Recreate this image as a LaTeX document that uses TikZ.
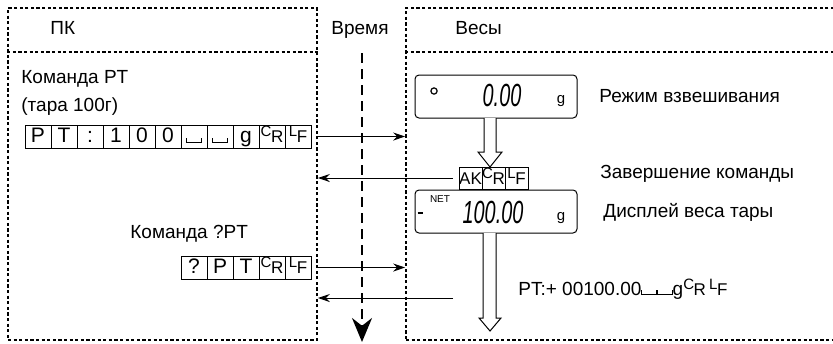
\documentclass[tikz,border=0pt]{standalone}
\usepackage{fontspec}
\setmainfont{Liberation Sans}
\usepackage{graphicx}
\usetikzlibrary{arrows.meta}

% control characters (CR, LF) and the visible blank
\newcommand{\ctl}[2]{{\fontsize{7.5}{7.5}\selectfont\raisebox{3pt}{#1}}\kern-0.2pt{\fontsize{8.5}{8.5}\selectfont#2}}
\newcommand{\blank}{\rule{0.4pt}{2.5pt}\rule{7pt}{0.4pt}\rule{0.4pt}{2.5pt}}
% narrow slanted digits of the balance display
\newcommand{\segs}[1]{\scalebox{0.62}[1]{\fontsize{16}{16}\selectfont\itshape #1}}

\tikzset{
	lane/.style={draw, line width=0.8pt, dash pattern=on 1.6pt off 1.2pt, inner sep=0pt},
	msg/.style={-{Stealth[length=6pt, width=4pt]}, line width=0.5pt},
	timeline/.style={line width=1pt, dash pattern=on 5pt off 3pt, -{Stealth[length=12pt, width=10pt]}},
	cell/.style={draw, line width=0.4pt, minimum width=13pt, minimum height=11.5pt, inner sep=0pt,
		text height=7.5pt, text depth=1.5pt, font=\fontsize{10.5}{10.5}\selectfont},
	akcell/.style={cell, minimum width=11.5pt, minimum height=11pt, font=\fontsize{8.5}{8.5}\selectfont},
	lcd/.style={draw, line width=0.5pt, rounded corners=2pt, minimum width=81pt, minimum height=21.5pt},
	txt/.style={anchor=base west, inner sep=0pt, font=\fontsize{9.5}{11}\selectfont},
	unit/.style={inner sep=0pt, font=\fontsize{7.5}{7.5}\selectfont},
	hollow/.style={draw, line width=0.5pt, fill=white}
}

\begin{document}
\begin{tikzpicture}[x=0.5pt, y=-0.5pt]
		\clip (0,0) rectangle (833,343);

		% the two lanes, PC on the left and the balance on the right
		\node [lane, minimum width=154.5pt, minimum height=166pt] (pc) at (162.5,174) {};
		\node [lane, minimum width=227pt, minimum height=166pt] (bal) at (633,174) {};
		\coordinate (hd) at (0,52);
		\draw [lane] (pc.west |- hd) -- (pc.east |- hd);
		\draw [lane] (bal.west |- hd) -- (bal.east |- hd);

		\node [txt] (pctitle) at (50,34) {ПК};
		\node [txt] (timetitle) at (331,34) {Время};
		\node [txt] (baltitle) at (455,34) {Весы};

		% time axis
		\coordinate (t0) at (362,53);
		\coordinate (t1) at (362,342);
		\draw [timeline] (t0) -- (t1);

		% command PT
		\node [txt] (cmd1) at (21,83) {Команда PT};
		\node [txt] (tare) at (21,111) {(тара 100г)};
		\node [cell] (s1) at (38,136.5) {P};
		\node [cell] (s2) at (64,136.5) {T};
		\node [cell] (s3) at (90,136.5) {:};
		\node [cell] (s4) at (116,136.5) {1};
		\node [cell] (s5) at (142,136.5) {0};
		\node [cell] (s6) at (168,136.5) {0};
		\node [cell] (s7) at (194,136.5) {\blank};
		\node [cell] (s8) at (220,136.5) {\blank};
		\node [cell] (s9) at (246,136.5) {g};
		\node [cell] (s10) at (272,136.5) {\ctl{C}{R}};
		\node [cell] (s11) at (298,136.5) {\ctl{L}{F}};

		% command ?PT
		\node [txt] (cmd2) at (130,238) {Команда ?PT};
		\node [cell] (q1) at (194,267.5) {?};
		\node [cell] (q2) at (220,267.5) {P};
		\node [cell] (q3) at (246,267.5) {T};
		\node [cell] (q4) at (272,267.5) {\ctl{C}{R}};
		\node [cell] (q5) at (298,267.5) {\ctl{L}{F}};

		% weighing display
		\node [lcd] (disp1) at (496,96.5) {};
		\node [circle, draw, line width=0.6pt, inner sep=1.1pt] (dot) at (434,91) {};
		\node (w1) at (502,95) {\segs{0.00}};
		\node [unit] (g1) at (561,101) {g};
		\node [txt] (mode) at (599,102) {Режим взвешивания};

		% acknowledge
		\node [akcell] (ak1) at (470.5,178) {AK};
		\node [akcell] (ak2) at (493.5,178) {\ctl{C}{R}};
		\node [akcell] (ak3) at (516.5,178) {\ctl{L}{F}};
		\node [txt] (done) at (600,178) {Завершение команды};

		% tare display
		\node [lcd] (disp2) at (496,211.5) {};
		\node [unit, font=\fontsize{5}{5}\selectfont] (net) at (440,199) {NET};
		\node [inner sep=0pt] (minus) at (420,213) {\rule{2.5pt}{0.9pt}};
		\node (w2) at (493,212.5) {\segs{100.00}};
		\node [unit] (g2) at (561,218) {g};
		\node [txt] (taredisp) at (603,217) {Дисплей веса тары};

		\node [txt] (reply) at (518,295) {PT:+ 00100.00\blank\blank g\ctl{C}{R}\,\ctl{L}{F}};

		% hollow arrows on the balance side
		\draw [hollow] (484,118) -- (484,152) -- (478,152) -- (490,167) -- (502,152) -- (496,152) -- (496,118);
		\draw [hollow] (483,233) -- (483,318) -- (479,318) -- (490,331) -- (501,318) -- (496,318) -- (496,233);

		% messages
		\draw [msg] (pc.east |- s11) -- (bal.west |- s11);
		\draw [msg] ([xshift=-3pt]ak1.west) -- (ak1.west -| pc.east);
		\draw [msg] (pc.east |- q5) -- (bal.west |- q5);
		\coordinate (resp) at (453,298);
		\draw [msg] (resp) -- (resp -| pc.east);
	\end{tikzpicture}
\end{document}
